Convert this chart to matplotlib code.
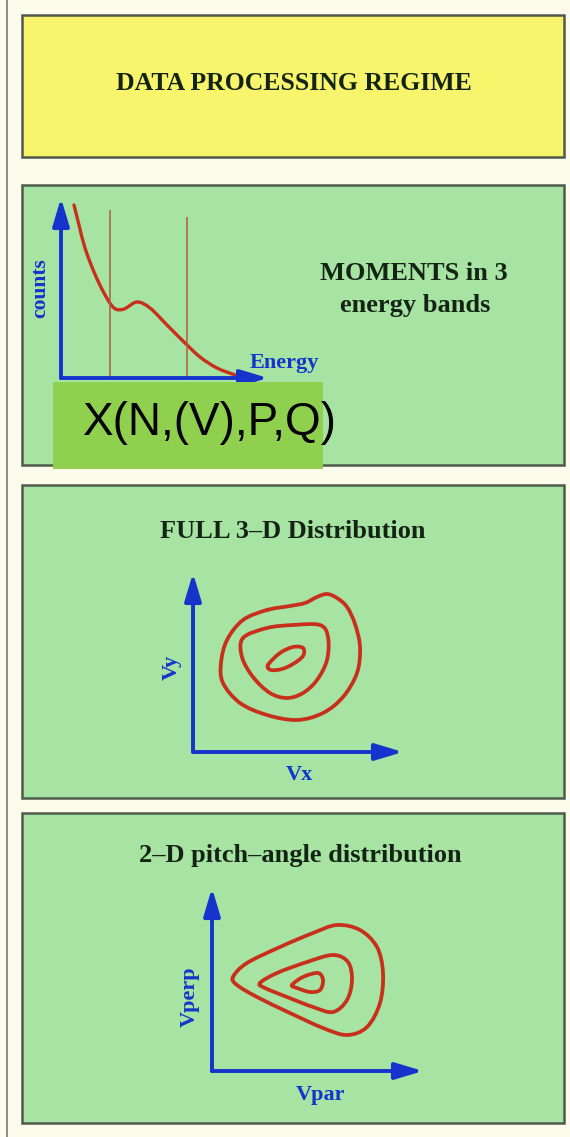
import numpy as np
import matplotlib
matplotlib.use("Agg")
import matplotlib.pyplot as plt
from matplotlib.patches import Rectangle, PathPatch
from matplotlib.path import Path

# ---------------- data ----------------
title_main = "DATA PROCESSING REGIME"
title_moments = ["MOMENTS in 3", "energy bands"]
moments_label = "X(N,(V),P,Q)"
title_full = "FULL 3\u2013D Distribution"
title_pitch = "2\u2013D pitch\u2013angle distribution"

# energy spectrum (arbitrary units, measured from axis origin)
spec_energy = [13, 18, 24, 33, 43, 53, 63, 76, 89, 106, 123, 139, 156, 174]
spec_counts = [173, 153, 130, 106, 85, 70, 69, 76, 70, 53, 36, 21, 10, 3]
band_edges = [49, 126]
band_tops = [168, 161]

# full 3-D distribution contours (Vx, Vy)
full_outer_vx = [74, 97, 112, 124, 134, 144, 154, 162, 167, 164, 150, 130, 104, 74, 47, 30, 28, 34, 50]
full_outer_vy = [142, 146, 149, 155, 158, 154, 145, 128, 105, 79, 55, 39, 32, 37, 49, 69, 89, 112, 132]
full_mid_vx = [50, 74, 100, 127, 135, 134, 124, 110, 94, 77, 60, 49]
full_mid_vy = [114, 124, 127, 127, 115, 92, 72, 59, 54, 59, 75, 95]
full_in_vx = [75, 87, 100, 110, 110, 100, 89, 78]
full_in_vy = [87, 99, 105, 104, 96, 88, 83, 82]

# 2-D pitch-angle contours (Vpar, Vperp)
pa_outer_vpar = [21, 35, 68, 101, 125, 148, 165, 171, 168, 155, 135, 111, 78, 45, 25]
pa_outer_vperp = [94, 108, 124, 138, 146, 141, 124, 98, 68, 44, 36, 43, 58, 74, 86]
pa_mid_vpar = [48, 65, 95, 121, 136, 140, 135, 121, 101, 75, 53]
pa_mid_vperp = [88, 98, 109, 116, 109, 91, 71, 59, 64, 74, 83]
pa_in_vpar = [80, 91, 106, 111, 108, 98, 85]
pa_in_vperp = [86, 94, 98, 91, 81, 79, 83]

# ---------------- styles ----------------
W, H = 570, 1137
BG = "#FDFBEC"
YELLOW = "#F8F56C"
GREEN = "#A7E3A3"
LABEL_GREEN = "#8FD14F"
EDGE = "#4E5A4A"
BLUE = "#1434CC"
RED = "#C8301C"
BAND = "#B0603F"
DARK = "#142414"
SERIF = ["Liberation Serif", "DejaVu Serif"]
SANS = ["Liberation Sans", "DejaVu Sans"]

fig = plt.figure(figsize=(W / 100, H / 100), dpi=100, facecolor=BG)

# background axes in pixel coordinates
bg = fig.add_axes([0, 0, 1, 1], zorder=0)
bg.set_xlim(0, W)
bg.set_ylim(H, 0)
bg.axis("off")
bg.set_facecolor(BG)

bg.plot([7, 7], [0, H], color="#7A7A72", lw=1.2)

boxes = [(22, 15, 542, 142, YELLOW), (22, 185, 542, 280, GREEN),
         (22, 485, 542, 313, GREEN), (22, 813, 542, 310, GREEN)]
for x0, y0, w, h, c in boxes:
    bg.add_patch(Rectangle((x0, y0), w, h, facecolor=c, edgecolor=EDGE, lw=1.8))


def inset(x0, y_origin, w, h, z=1):
    a = fig.add_axes([x0 / W, 1 - y_origin / H, w / W, h / H], zorder=z)
    a.set_xlim(0, w)
    a.set_ylim(0, h)
    a.axis("off")
    a.patch.set_alpha(0)
    return a


def axis_arrows(a):
    style = "-|>,head_length=0.6,head_width=0.18"
    for tip in [(1, 0), (0, 1)]:
        a.annotate("", xy=tip, xytext=(0, 0), xycoords="axes fraction",
                   textcoords="axes fraction",
                   arrowprops=dict(arrowstyle=style, color=BLUE, lw=2.8,
                                   mutation_scale=28, shrinkA=0, shrinkB=0),
                   annotation_clip=False)


def smooth(x, y, closed=True):
    P = np.column_stack([x, y]).astype(float)
    n = len(P)
    verts = [P[0]]
    codes = [Path.MOVETO]
    rng = range(n) if closed else range(n - 1)
    for i in rng:
        if closed:
            p0, p1, p2, p3 = P[(i - 1) % n], P[i], P[(i + 1) % n], P[(i + 2) % n]
        else:
            p0, p1, p2, p3 = P[max(i - 1, 0)], P[i], P[i + 1], P[min(i + 2, n - 1)]
        verts += [p1 + (p2 - p0) / 6, p2 - (p3 - p1) / 6, p2]
        codes += [Path.CURVE4] * 3
    return Path(verts, codes)


def draw_curve(a, x, y, closed=True, lw=2.7):
    a.add_patch(PathPatch(smooth(x, y, closed), fill=False, edgecolor=RED,
                          lw=lw, capstyle="round", joinstyle="round"))


# ---------------- panel 1: spectrum ----------------
a1 = inset(61, 378, 207, 180)
axis_arrows(a1)
for e, t in zip(band_edges, band_tops):
    a1.vlines(e, 0, t, color=BAND, lw=1.1)
draw_curve(a1, spec_energy, spec_counts, closed=False, lw=2.4)

# ---------------- panel 2: full 3-D ----------------
a2 = inset(193, 752, 210, 179)
axis_arrows(a2)
draw_curve(a2, full_outer_vx, full_outer_vy)
draw_curve(a2, full_mid_vx, full_mid_vy)
draw_curve(a2, full_in_vx, full_in_vy)

# ---------------- panel 3: pitch angle ----------------
a3 = inset(212, 1071, 211, 183)
axis_arrows(a3)
draw_curve(a3, pa_outer_vpar, pa_outer_vperp)
draw_curve(a3, pa_mid_vpar, pa_mid_vperp)
draw_curve(a3, pa_in_vpar, pa_in_vperp)

# ---------------- overlay: label box + texts ----------------
ov = fig.add_axes([0, 0, 1, 1], zorder=3)
ov.set_xlim(0, W)
ov.set_ylim(H, 0)
ov.axis("off")
ov.patch.set_alpha(0)

ov.add_patch(Rectangle((53, 382), 270, 87, facecolor=LABEL_GREEN, edgecolor="none"))
ov.text(83, 435, moments_label, fontsize=33, family=SANS, color="black",
        ha="left", va="baseline")

ov.text(294, 90, title_main, fontsize=18.5, family=SERIF, weight="bold",
        color=DARK, ha="center", va="baseline")
ov.text(414, 280, title_moments[0], fontsize=19, family=SERIF, weight="bold",
        color=DARK, ha="center", va="baseline")
ov.text(415, 312, title_moments[1], fontsize=19, family=SERIF, weight="bold",
        color=DARK, ha="center", va="baseline")
ov.text(40, 288, "counts", fontsize=15.5, family=SERIF, weight="bold",
        color=BLUE, ha="center", va="center", rotation=90)
ov.text(250, 368, "Energy", fontsize=16, family=SERIF, weight="bold",
        color=BLUE, ha="left", va="baseline")

ov.text(293, 538, title_full, fontsize=19, family=SERIF, weight="bold",
        color=DARK, ha="center", va="baseline")
ov.text(172, 667, "Vy", fontsize=16, family=SERIF, weight="bold",
        color=BLUE, ha="center", va="center", rotation=90)
ov.text(299, 780, "Vx", fontsize=16, family=SERIF, weight="bold",
        color=BLUE, ha="center", va="baseline")

ov.text(300, 862, title_pitch, fontsize=19, family=SERIF, weight="bold",
        color=DARK, ha="center", va="baseline")
ov.text(190, 997, "Vperp", fontsize=16, family=SERIF, weight="bold",
        color=BLUE, ha="center", va="center", rotation=90)
ov.text(321, 1100, "Vpar", fontsize=16, family=SERIF, weight="bold",
        color=BLUE, ha="center", va="baseline")

fig.savefig("out.png", dpi=100, facecolor=BG)
